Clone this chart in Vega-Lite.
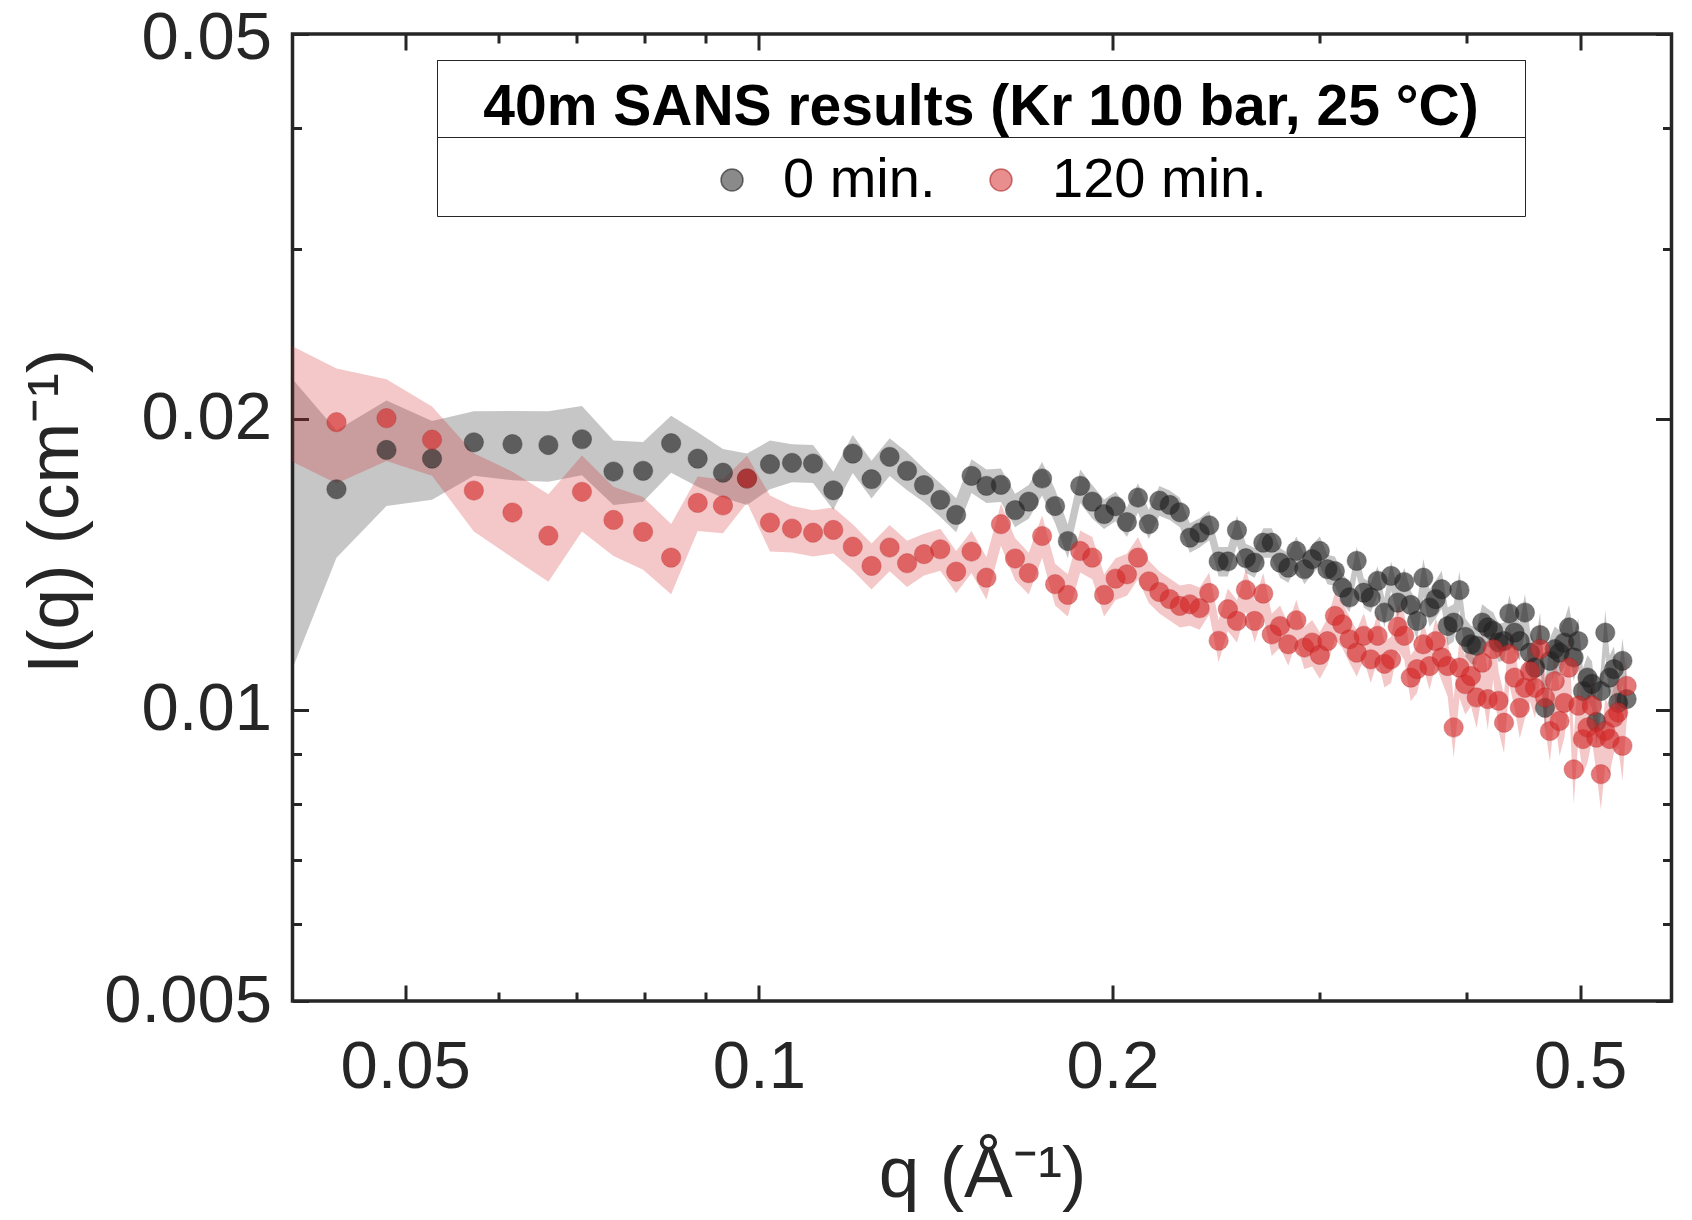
{
  "$schema": "https://vega.github.io/schema/vega-lite/v6.json",
  "autosize": {"type": "none"},
  "padding": {"left": 292.5, "top": 34, "right": 20.5, "bottom": 219},
  "width": 1379,
  "height": 967,
  "background": "white",
  "config": {
    "font": "Liberation Sans",
    "view": {"stroke": "#262626", "strokeWidth": 3.5},
    "axis": {
      "grid": false, "domain": false, "labelFlush": false, "labelOverlap": false,
      "tickColor": "#262626", "tickWidth": 3,
      "labelColor": "#262626", "labelFontSize": 67, "labelFont": "Liberation Sans",
      "titleColor": "#262626", "titleFontSize": 73, "titleFontWeight": "normal", "titleFont": "Liberation Sans"
    },
    "legend": {"labelFont": "Liberation Sans", "titleFont": "Liberation Sans"}
  },
  "data": {"values": [
    {"t": "0 min.", "q": 0.03921, "I": 0.0165, "e": 0.0062},
    {"t": "0 min.", "q": 0.04371, "I": 0.01691, "e": 0.00254},
    {"t": "0 min.", "q": 0.04821, "I": 0.01857, "e": 0.00232},
    {"t": "0 min.", "q": 0.05271, "I": 0.01819, "e": 0.0017},
    {"t": "0 min.", "q": 0.05721, "I": 0.01891, "e": 0.00145},
    {"t": "0 min.", "q": 0.06171, "I": 0.01883, "e": 0.00155},
    {"t": "0 min.", "q": 0.06621, "I": 0.01879, "e": 0.00157},
    {"t": "0 min.", "q": 0.07071, "I": 0.01905, "e": 0.00157},
    {"t": "0 min.", "q": 0.07521, "I": 0.01764, "e": 0.00135},
    {"t": "0 min.", "q": 0.07971, "I": 0.01767, "e": 0.00125},
    {"t": "0 min.", "q": 0.08421, "I": 0.01887, "e": 0.00128},
    {"t": "0 min.", "q": 0.08871, "I": 0.01819, "e": 0.00118},
    {"t": "0 min.", "q": 0.09321, "I": 0.01759, "e": 0.00102},
    {"t": "0 min.", "q": 0.09771, "I": 0.01735, "e": 0.00106},
    {"t": "0 min.", "q": 0.10221, "I": 0.01795, "e": 0.00104},
    {"t": "0 min.", "q": 0.10671, "I": 0.01801, "e": 0.00081},
    {"t": "0 min.", "q": 0.11121, "I": 0.01798, "e": 0.00081},
    {"t": "0 min.", "q": 0.11571, "I": 0.01687, "e": 0.00076},
    {"t": "0 min.", "q": 0.12021, "I": 0.01841, "e": 0.00083},
    {"t": "0 min.", "q": 0.12471, "I": 0.01732, "e": 0.00078},
    {"t": "0 min.", "q": 0.12921, "I": 0.01827, "e": 0.00082},
    {"t": "0 min.", "q": 0.13371, "I": 0.01767, "e": 0.0008},
    {"t": "0 min.", "q": 0.13821, "I": 0.01708, "e": 0.00068},
    {"t": "0 min.", "q": 0.14271, "I": 0.01649, "e": 0.00066},
    {"t": "0 min.", "q": 0.14721, "I": 0.01591, "e": 0.00064},
    {"t": "0 min.", "q": 0.15171, "I": 0.01746, "e": 0.0007},
    {"t": "0 min.", "q": 0.15621, "I": 0.01705, "e": 0.00068},
    {"t": "0 min.", "q": 0.16071, "I": 0.01709, "e": 0.00068},
    {"t": "0 min.", "q": 0.16521, "I": 0.01609, "e": 0.00064},
    {"t": "0 min.", "q": 0.16971, "I": 0.01642, "e": 0.00066},
    {"t": "0 min.", "q": 0.17421, "I": 0.01735, "e": 0.00069},
    {"t": "0 min.", "q": 0.17871, "I": 0.01625, "e": 0.00065},
    {"t": "0 min.", "q": 0.18321, "I": 0.01495, "e": 0.0006},
    {"t": "0 min.", "q": 0.18771, "I": 0.01705, "e": 0.00068},
    {"t": "0 min.", "q": 0.19221, "I": 0.01642, "e": 0.00066},
    {"t": "0 min.", "q": 0.19671, "I": 0.01594, "e": 0.00056},
    {"t": "0 min.", "q": 0.20121, "I": 0.01624, "e": 0.00057},
    {"t": "0 min.", "q": 0.20571, "I": 0.01564, "e": 0.00055},
    {"t": "0 min.", "q": 0.21021, "I": 0.01658, "e": 0.00058},
    {"t": "0 min.", "q": 0.21471, "I": 0.01556, "e": 0.00054},
    {"t": "0 min.", "q": 0.21921, "I": 0.01646, "e": 0.00058},
    {"t": "0 min.", "q": 0.22371, "I": 0.01629, "e": 0.00057},
    {"t": "0 min.", "q": 0.22821, "I": 0.01601, "e": 0.00056},
    {"t": "0 min.", "q": 0.23271, "I": 0.01507, "e": 0.00053},
    {"t": "0 min.", "q": 0.23721, "I": 0.01525, "e": 0.00053},
    {"t": "0 min.", "q": 0.24171, "I": 0.01552, "e": 0.00054},
    {"t": "0 min.", "q": 0.24621, "I": 0.01424, "e": 0.0005},
    {"t": "0 min.", "q": 0.25071, "I": 0.01424, "e": 0.0005},
    {"t": "0 min.", "q": 0.25521, "I": 0.01534, "e": 0.00054},
    {"t": "0 min.", "q": 0.25971, "I": 0.01435, "e": 0.0005},
    {"t": "0 min.", "q": 0.26421, "I": 0.0142, "e": 0.0005},
    {"t": "0 min.", "q": 0.26871, "I": 0.01489, "e": 0.00052},
    {"t": "0 min.", "q": 0.27321, "I": 0.01489, "e": 0.00052},
    {"t": "0 min.", "q": 0.27771, "I": 0.0142, "e": 0.0005},
    {"t": "0 min.", "q": 0.28221, "I": 0.01403, "e": 0.00049},
    {"t": "0 min.", "q": 0.28671, "I": 0.0146, "e": 0.00051},
    {"t": "0 min.", "q": 0.29121, "I": 0.01398, "e": 0.00049},
    {"t": "0 min.", "q": 0.29571, "I": 0.01432, "e": 0.0005},
    {"t": "0 min.", "q": 0.30021, "I": 0.0146, "e": 0.00051},
    {"t": "0 min.", "q": 0.30471, "I": 0.01398, "e": 0.00049},
    {"t": "0 min.", "q": 0.30921, "I": 0.01392, "e": 0.00049},
    {"t": "0 min.", "q": 0.31371, "I": 0.01338, "e": 0.00047},
    {"t": "0 min.", "q": 0.31821, "I": 0.01307, "e": 0.00046},
    {"t": "0 min.", "q": 0.32271, "I": 0.01426, "e": 0.0005},
    {"t": "0 min.", "q": 0.32721, "I": 0.01322, "e": 0.00046},
    {"t": "0 min.", "q": 0.33171, "I": 0.01307, "e": 0.00046},
    {"t": "0 min.", "q": 0.33621, "I": 0.0136, "e": 0.00048},
    {"t": "0 min.", "q": 0.34071, "I": 0.01261, "e": 0.00044},
    {"t": "0 min.", "q": 0.34521, "I": 0.01376, "e": 0.00048},
    {"t": "0 min.", "q": 0.34971, "I": 0.01291, "e": 0.00045},
    {"t": "0 min.", "q": 0.35421, "I": 0.01356, "e": 0.00047},
    {"t": "0 min.", "q": 0.35871, "I": 0.01284, "e": 0.00045},
    {"t": "0 min.", "q": 0.36321, "I": 0.01236, "e": 0.00056},
    {"t": "0 min.", "q": 0.36771, "I": 0.0137, "e": 0.00062},
    {"t": "0 min.", "q": 0.37221, "I": 0.01276, "e": 0.00057},
    {"t": "0 min.", "q": 0.37671, "I": 0.01302, "e": 0.00059},
    {"t": "0 min.", "q": 0.38121, "I": 0.01333, "e": 0.0006},
    {"t": "0 min.", "q": 0.38571, "I": 0.01221, "e": 0.00055},
    {"t": "0 min.", "q": 0.39021, "I": 0.01231, "e": 0.00055},
    {"t": "0 min.", "q": 0.39471, "I": 0.0133, "e": 0.0006},
    {"t": "0 min.", "q": 0.39921, "I": 0.0119, "e": 0.00054},
    {"t": "0 min.", "q": 0.40371, "I": 0.01169, "e": 0.00053},
    {"t": "0 min.", "q": 0.40821, "I": 0.01165, "e": 0.00052},
    {"t": "0 min.", "q": 0.41271, "I": 0.01231, "e": 0.00055},
    {"t": "0 min.", "q": 0.41721, "I": 0.01217, "e": 0.00055},
    {"t": "0 min.", "q": 0.42171, "I": 0.01207, "e": 0.00054},
    {"t": "0 min.", "q": 0.42621, "I": 0.01174, "e": 0.00053},
    {"t": "0 min.", "q": 0.43071, "I": 0.01178, "e": 0.00053},
    {"t": "0 min.", "q": 0.43521, "I": 0.01258, "e": 0.00057},
    {"t": "0 min.", "q": 0.43971, "I": 0.01202, "e": 0.00054},
    {"t": "0 min.", "q": 0.44421, "I": 0.01178, "e": 0.00053},
    {"t": "0 min.", "q": 0.44871, "I": 0.01261, "e": 0.00057},
    {"t": "0 min.", "q": 0.45321, "I": 0.01146, "e": 0.00063},
    {"t": "0 min.", "q": 0.45771, "I": 0.01106, "e": 0.00061},
    {"t": "0 min.", "q": 0.46221, "I": 0.01195, "e": 0.00066},
    {"t": "0 min.", "q": 0.46671, "I": 0.01005, "e": 0.00055},
    {"t": "0 min.", "q": 0.47121, "I": 0.01124, "e": 0.00062},
    {"t": "0 min.", "q": 0.47571, "I": 0.01156, "e": 0.00064},
    {"t": "0 min.", "q": 0.48021, "I": 0.01146, "e": 0.00063},
    {"t": "0 min.", "q": 0.48471, "I": 0.01174, "e": 0.00065},
    {"t": "0 min.", "q": 0.48921, "I": 0.01217, "e": 0.00067},
    {"t": "0 min.", "q": 0.49371, "I": 0.01133, "e": 0.00062},
    {"t": "0 min.", "q": 0.49821, "I": 0.01178, "e": 0.00065},
    {"t": "0 min.", "q": 0.50271, "I": 0.01046, "e": 0.00058},
    {"t": "0 min.", "q": 0.50721, "I": 0.0108, "e": 0.00059},
    {"t": "0 min.", "q": 0.51171, "I": 0.01064, "e": 0.00059},
    {"t": "0 min.", "q": 0.51621, "I": 0.00972, "e": 0.00053},
    {"t": "0 min.", "q": 0.52071, "I": 0.01046, "e": 0.00058},
    {"t": "0 min.", "q": 0.52521, "I": 0.01202, "e": 0.00066},
    {"t": "0 min.", "q": 0.52971, "I": 0.0108, "e": 0.00059},
    {"t": "0 min.", "q": 0.53421, "I": 0.01102, "e": 0.00061},
    {"t": "0 min.", "q": 0.53871, "I": 0.01017, "e": 0.00056},
    {"t": "0 min.", "q": 0.54321, "I": 0.01124, "e": 0.00062},
    {"t": "0 min.", "q": 0.54771, "I": 0.01026, "e": 0.00056},
    {"t": "120 min.", "q": 0.03921, "I": 0.0212, "e": 0.0029},
    {"t": "120 min.", "q": 0.04371, "I": 0.01984, "e": 0.0027},
    {"t": "120 min.", "q": 0.04821, "I": 0.02003, "e": 0.00194},
    {"t": "120 min.", "q": 0.05271, "I": 0.01903, "e": 0.00157},
    {"t": "120 min.", "q": 0.05721, "I": 0.01686, "e": 0.00157},
    {"t": "120 min.", "q": 0.06171, "I": 0.016, "e": 0.00163},
    {"t": "120 min.", "q": 0.06621, "I": 0.01514, "e": 0.00157},
    {"t": "120 min.", "q": 0.07071, "I": 0.01681, "e": 0.00152},
    {"t": "120 min.", "q": 0.07521, "I": 0.01572, "e": 0.00129},
    {"t": "120 min.", "q": 0.07971, "I": 0.01528, "e": 0.00132},
    {"t": "120 min.", "q": 0.08421, "I": 0.01437, "e": 0.0012},
    {"t": "120 min.", "q": 0.08871, "I": 0.01637, "e": 0.00106},
    {"t": "120 min.", "q": 0.09321, "I": 0.01627, "e": 0.00104},
    {"t": "120 min.", "q": 0.09771, "I": 0.01735, "e": 0.00097},
    {"t": "120 min.", "q": 0.10221, "I": 0.01562, "e": 0.00104},
    {"t": "120 min.", "q": 0.10671, "I": 0.0154, "e": 0.00085},
    {"t": "120 min.", "q": 0.11121, "I": 0.01525, "e": 0.00084},
    {"t": "120 min.", "q": 0.11571, "I": 0.01535, "e": 0.00084},
    {"t": "120 min.", "q": 0.12021, "I": 0.01475, "e": 0.00081},
    {"t": "120 min.", "q": 0.12471, "I": 0.01409, "e": 0.00077},
    {"t": "120 min.", "q": 0.12921, "I": 0.01472, "e": 0.00081},
    {"t": "120 min.", "q": 0.13371, "I": 0.01418, "e": 0.00078},
    {"t": "120 min.", "q": 0.13821, "I": 0.01449, "e": 0.00072},
    {"t": "120 min.", "q": 0.14271, "I": 0.01466, "e": 0.00073},
    {"t": "120 min.", "q": 0.14721, "I": 0.0139, "e": 0.0007},
    {"t": "120 min.", "q": 0.15171, "I": 0.01458, "e": 0.00073},
    {"t": "120 min.", "q": 0.15621, "I": 0.0137, "e": 0.00069},
    {"t": "120 min.", "q": 0.16071, "I": 0.01556, "e": 0.00078},
    {"t": "120 min.", "q": 0.16521, "I": 0.01434, "e": 0.00072},
    {"t": "120 min.", "q": 0.16971, "I": 0.01385, "e": 0.00069},
    {"t": "120 min.", "q": 0.17421, "I": 0.01513, "e": 0.00076},
    {"t": "120 min.", "q": 0.17871, "I": 0.01349, "e": 0.00067},
    {"t": "120 min.", "q": 0.18321, "I": 0.01315, "e": 0.00066},
    {"t": "120 min.", "q": 0.18771, "I": 0.0146, "e": 0.00073},
    {"t": "120 min.", "q": 0.19221, "I": 0.01437, "e": 0.00072},
    {"t": "120 min.", "q": 0.19671, "I": 0.01315, "e": 0.00066},
    {"t": "120 min.", "q": 0.20121, "I": 0.01367, "e": 0.00068},
    {"t": "120 min.", "q": 0.20571, "I": 0.01381, "e": 0.00069},
    {"t": "120 min.", "q": 0.21021, "I": 0.01437, "e": 0.00072},
    {"t": "120 min.", "q": 0.21471, "I": 0.01358, "e": 0.00068},
    {"t": "120 min.", "q": 0.21921, "I": 0.01324, "e": 0.00066},
    {"t": "120 min.", "q": 0.22371, "I": 0.01302, "e": 0.00065},
    {"t": "120 min.", "q": 0.22821, "I": 0.01281, "e": 0.00064},
    {"t": "120 min.", "q": 0.23271, "I": 0.01286, "e": 0.00064},
    {"t": "120 min.", "q": 0.23721, "I": 0.01274, "e": 0.00064},
    {"t": "120 min.", "q": 0.24171, "I": 0.01321, "e": 0.00066},
    {"t": "120 min.", "q": 0.24621, "I": 0.01179, "e": 0.00059},
    {"t": "120 min.", "q": 0.25071, "I": 0.01271, "e": 0.00064},
    {"t": "120 min.", "q": 0.25521, "I": 0.01236, "e": 0.00062},
    {"t": "120 min.", "q": 0.25971, "I": 0.01331, "e": 0.00067},
    {"t": "120 min.", "q": 0.26421, "I": 0.01236, "e": 0.00062},
    {"t": "120 min.", "q": 0.26871, "I": 0.01319, "e": 0.00066},
    {"t": "120 min.", "q": 0.27321, "I": 0.01197, "e": 0.0006},
    {"t": "120 min.", "q": 0.27771, "I": 0.01221, "e": 0.00061},
    {"t": "120 min.", "q": 0.28221, "I": 0.01169, "e": 0.00058},
    {"t": "120 min.", "q": 0.28671, "I": 0.01238, "e": 0.00062},
    {"t": "120 min.", "q": 0.29121, "I": 0.0116, "e": 0.00058},
    {"t": "120 min.", "q": 0.29571, "I": 0.01174, "e": 0.00065},
    {"t": "120 min.", "q": 0.30021, "I": 0.0114, "e": 0.00063},
    {"t": "120 min.", "q": 0.30471, "I": 0.01178, "e": 0.00065},
    {"t": "120 min.", "q": 0.30921, "I": 0.01251, "e": 0.00069},
    {"t": "120 min.", "q": 0.31371, "I": 0.01226, "e": 0.00067},
    {"t": "120 min.", "q": 0.31821, "I": 0.01183, "e": 0.00065},
    {"t": "120 min.", "q": 0.32271, "I": 0.01146, "e": 0.00063},
    {"t": "120 min.", "q": 0.32721, "I": 0.01193, "e": 0.00066},
    {"t": "120 min.", "q": 0.33171, "I": 0.01128, "e": 0.00062},
    {"t": "120 min.", "q": 0.33621, "I": 0.01193, "e": 0.00066},
    {"t": "120 min.", "q": 0.34071, "I": 0.01116, "e": 0.00061},
    {"t": "120 min.", "q": 0.34521, "I": 0.01128, "e": 0.00062},
    {"t": "120 min.", "q": 0.34971, "I": 0.01219, "e": 0.00067},
    {"t": "120 min.", "q": 0.35421, "I": 0.01193, "e": 0.00066},
    {"t": "120 min.", "q": 0.35871, "I": 0.0108, "e": 0.00059},
    {"t": "120 min.", "q": 0.36321, "I": 0.01102, "e": 0.00061},
    {"t": "120 min.", "q": 0.36771, "I": 0.01169, "e": 0.00064},
    {"t": "120 min.", "q": 0.37221, "I": 0.0111, "e": 0.00061},
    {"t": "120 min.", "q": 0.37671, "I": 0.01178, "e": 0.00065},
    {"t": "120 min.", "q": 0.38121, "I": 0.01133, "e": 0.00062},
    {"t": "120 min.", "q": 0.38571, "I": 0.0111, "e": 0.00078},
    {"t": "120 min.", "q": 0.39021, "I": 0.00959, "e": 0.00067},
    {"t": "120 min.", "q": 0.39471, "I": 0.01106, "e": 0.00077},
    {"t": "120 min.", "q": 0.39921, "I": 0.01063, "e": 0.00074},
    {"t": "120 min.", "q": 0.40371, "I": 0.01084, "e": 0.00076},
    {"t": "120 min.", "q": 0.40821, "I": 0.0103, "e": 0.00072},
    {"t": "120 min.", "q": 0.41271, "I": 0.01119, "e": 0.00078},
    {"t": "120 min.", "q": 0.41721, "I": 0.01026, "e": 0.00072},
    {"t": "120 min.", "q": 0.42171, "I": 0.01156, "e": 0.00081},
    {"t": "120 min.", "q": 0.42621, "I": 0.01022, "e": 0.00072},
    {"t": "120 min.", "q": 0.43071, "I": 0.0097, "e": 0.00068},
    {"t": "120 min.", "q": 0.43521, "I": 0.01142, "e": 0.0008},
    {"t": "120 min.", "q": 0.43971, "I": 0.0108, "e": 0.00076},
    {"t": "120 min.", "q": 0.44421, "I": 0.01005, "e": 0.0007},
    {"t": "120 min.", "q": 0.44871, "I": 0.01054, "e": 0.00074},
    {"t": "120 min.", "q": 0.45321, "I": 0.01097, "e": 0.00077},
    {"t": "120 min.", "q": 0.45771, "I": 0.01054, "e": 0.00074},
    {"t": "120 min.", "q": 0.46221, "I": 0.01156, "e": 0.00081},
    {"t": "120 min.", "q": 0.46671, "I": 0.0103, "e": 0.00072},
    {"t": "120 min.", "q": 0.47121, "I": 0.00951, "e": 0.00067},
    {"t": "120 min.", "q": 0.47571, "I": 0.01071, "e": 0.00086},
    {"t": "120 min.", "q": 0.48021, "I": 0.00974, "e": 0.00078},
    {"t": "120 min.", "q": 0.48471, "I": 0.01017, "e": 0.00081},
    {"t": "120 min.", "q": 0.48921, "I": 0.01106, "e": 0.00088},
    {"t": "120 min.", "q": 0.49371, "I": 0.00868, "e": 0.00069},
    {"t": "120 min.", "q": 0.49821, "I": 0.0101, "e": 0.00081},
    {"t": "120 min.", "q": 0.50271, "I": 0.00933, "e": 0.00075},
    {"t": "120 min.", "q": 0.50721, "I": 0.00959, "e": 0.00077},
    {"t": "120 min.", "q": 0.51171, "I": 0.0101, "e": 0.00081},
    {"t": "120 min.", "q": 0.51621, "I": 0.00936, "e": 0.00075},
    {"t": "120 min.", "q": 0.52071, "I": 0.00858, "e": 0.00069},
    {"t": "120 min.", "q": 0.52521, "I": 0.00951, "e": 0.00076},
    {"t": "120 min.", "q": 0.52971, "I": 0.00933, "e": 0.00075},
    {"t": "120 min.", "q": 0.53421, "I": 0.00982, "e": 0.00079},
    {"t": "120 min.", "q": 0.53871, "I": 0.00994, "e": 0.0008},
    {"t": "120 min.", "q": 0.54321, "I": 0.00918, "e": 0.00073},
    {"t": "120 min.", "q": 0.54771, "I": 0.01059, "e": 0.00085}
  ]},
  "layer": [
    {
      "mark": {"type": "errorband", "clip": true, "band": {"opacity": 0.26}},
      "encoding": {
        "x": {
          "field": "q", "type": "quantitative",
          "scale": {"type": "log", "domain": [0.0401, 0.598], "nice": false},
          "axis": {
            "orient": "bottom",
            "values": [0.05, 0.06, 0.07, 0.08, 0.09, 0.1, 0.2, 0.3, 0.4, 0.5],
            "labelExpr": "indexof([0.05, 0.1, 0.2, 0.5], datum.value) >= 0 ? '' + datum.value : ''",
            "tickSize": {"condition": {"test": "indexof([0.05, 0.1, 0.2, 0.5], datum.value) >= 0", "value": -16}, "value": -9},
            "labelPadding": 49,
            "title": "q (Å⁻¹)",
            "titlePadding": 31
          }
        },
        "y": {
          "field": "I", "type": "quantitative",
          "scale": {"type": "log", "domain": [0.005, 0.05], "nice": false},
          "axis": {
            "orient": "left",
            "values": [0.005, 0.006, 0.007, 0.008, 0.009, 0.01, 0.02, 0.03, 0.04, 0.05],
            "labelExpr": "indexof([0.005, 0.01, 0.02, 0.05], datum.value) >= 0 ? '' + datum.value : ''",
            "labelOffset": {"condition": {"test": "datum.value == 0.05", "value": 4}, "value": 0},
            "tickSize": {"condition": {"test": "indexof([0.005, 0.01, 0.02, 0.05], datum.value) >= 0", "value": -16}, "value": -9},
            "labelPadding": 37,
            "title": "I(q) (cm⁻¹)",
            "titlePadding": 11,
            "titleY": 477
          }
        },
        "yError": {"field": "e"},
        "fill": {
          "field": "t", "type": "nominal",
          "scale": {"domain": ["0 min.", "120 min."], "range": ["#222222", "#d42a2a"]}
        }
      }
    },
    {
      "mark": {"type": "point", "filled": true, "size": 370, "fillOpacity": 0.64, "strokeWidth": 1, "strokeOpacity": 0.3, "clip": true},
      "encoding": {
        "x": {
          "field": "q", "type": "quantitative",
          "axis": {
            "orient": "top",
            "values": [0.05, 0.06, 0.07, 0.08, 0.09, 0.1, 0.2, 0.3, 0.4, 0.5],
            "labels": false,
            "tickSize": {"condition": {"test": "indexof([0.05, 0.1, 0.2, 0.5], datum.value) >= 0", "value": -16}, "value": -9},
            "title": null
          }
        },
        "y": {
          "field": "I", "type": "quantitative",
          "axis": {
            "orient": "right",
            "values": [0.005, 0.006, 0.007, 0.008, 0.009, 0.01, 0.02, 0.03, 0.04, 0.05],
            "labels": false,
            "tickSize": {"condition": {"test": "indexof([0.005, 0.01, 0.02, 0.05], datum.value) >= 0", "value": -16}, "value": -9},
            "title": null
          }
        },
        "color": {
          "field": "t", "type": "nominal",
          "scale": {"domain": ["0 min.", "120 min."], "range": ["#222222", "#d42a2a"]},
          "legend": {
            "orient": "none", "legendX": 411.5, "legendY": 118,
            "title": null, "direction": "horizontal", "padding": 0,
            "symbolType": "circle", "symbolSize": 484, "symbolStrokeWidth": 1.5,
            "labelFontSize": 56, "labelColor": "#000000", "labelOffset": 23, "labelLimit": 600,
            "columnPadding": 37, "zindex": 3,
            "encode": {"symbols": {"update": {"opacity": {"value": 1}, "fillOpacity": {"value": 0.53}, "strokeOpacity": {"value": 0.55}}}}
          }
        },
        "stroke": {
          "field": "t", "type": "nominal",
          "scale": {"domain": ["0 min.", "120 min."], "range": ["#111111", "#a81c1c"]}
        },
        "shape": {
          "datum": "frame", "type": "nominal",
          "scale": {"range": ["circle"]},
          "legend": {
            "orient": "none", "legendX": 144.5, "legendY": 26,
            "title": "40m SANS results (Kr 100 bar, 25 °C)",
            "titleFontSize": 57, "titleFontWeight": "bold", "titleColor": "#000000",
            "titleLimit": 2000, "titleAnchor": "middle", "titlePadding": 58,
            "padding": 20, "strokeColor": "#262626",
            "symbolOpacity": 0, "symbolSize": 1, "symbolOffset": 1047, "symbolStrokeWidth": 0,
            "labelExpr": "''", "labelFontSize": 1, "labelOffset": 0,
            "zindex": 1,
            "encode": {"legend": {"update": {"strokeWidth": {"value": 3}}}}
          }
        },
        "strokeDash": {
          "datum": "divider", "type": "nominal",
          "scale": {"range": [[1, 0]]},
          "legend": {
            "orient": "none", "legendX": 144.5, "legendY": 26,
            "title": null, "padding": 0, "strokeColor": "#262626",
            "symbolType": "square", "symbolSize": 5929, "symbolOpacity": 0, "symbolStrokeWidth": 0,
            "symbolOffset": 1011,
            "labelExpr": "''", "labelFontSize": 1, "labelOffset": 0,
            "zindex": 1,
            "encode": {"legend": {"update": {"strokeWidth": {"value": 3}}}}
          }
        }
      }
    }
  ],
  "resolve": {"axis": {"x": "independent", "y": "independent"}}
}
